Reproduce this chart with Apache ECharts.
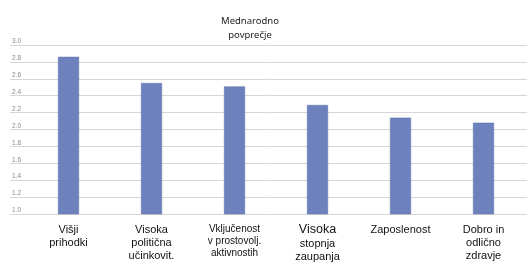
<!DOCTYPE html>
<html><head><meta charset="utf-8">
<script src="https://cdn.jsdelivr.net/npm/echarts@6/dist/echarts.min.js"></script>
<style>html,body{margin:0;padding:0;background:#fff}#c{width:527px;height:268px}</style>
</head><body><div id="c"></div>
<script>
const categories = ['Višji\nprihodki', 'Visoka\npolitična\nučinkovit.', 'Vključenost\nv prostovolj.\naktivnostih', 'Visoka\nstopnja\nzaupanja', 'Zaposlenost', 'Dobro in\nodlično\nzdravje'];
const values = [2.86, 2.55, 2.51, 2.29, 2.14, 2.08];
const yTicks = ['1.0','1.2','1.4','1.6','1.8','2.0','2.2','2.4','2.6','2.8','3.0'];
const title = 'Mednarodno\npovprečje';

const chart = echarts.init(document.getElementById('c'));
chart.setOption({
  animation: false,
  title: { text: title, left: 245, top: 9, textAlign: 'center',
    textStyle: { fontFamily: 'Noto Sans', fontSize: 9.5, fontWeight: 'normal', color: '#222', lineHeight: 14 } },
  grid: [
    { left: 27, right: 2, top: 45, bottom: 54 },
    { left: 10, right: 0, top: 45, bottom: 54 }
  ],
  xAxis: [
    { type: 'category', gridIndex: 0, data: categories,
      axisLine: { show: false }, axisTick: { show: false },
      axisLabel: { interval: 0, margin: 9, fontFamily: 'Liberation Sans', fontSize: 11, lineHeight: 13, color: '#111',
        formatter: (v, i) => {
          const lines = v.split('\n');
          if (i === 2) return lines.map(l => '{s|' + l + '}').join('\n');
          if (i === 3) return '{b|' + lines[0] + '}\n' + lines.slice(1).map(l => '{a|' + l + '}').join('\n');
          return lines.map(l => '{a|' + l + '}').join('\n');
        },
        rich: {
          a: { fontFamily: 'Liberation Sans', fontSize: 11, lineHeight: 13, color: '#111' },
          s: { fontFamily: 'Liberation Sans', fontSize: 10, lineHeight: 12, color: '#111' },
          b: { fontFamily: 'Liberation Sans', fontSize: 12.5, lineHeight: 14, color: '#111' }
        } } },
    { type: 'value', gridIndex: 1, show: false }
  ],
  yAxis: [
    { type: 'value', gridIndex: 0, min: 1.0, max: 3.0, interval: 0.2, show: false, splitLine: { show: false } },
    { type: 'value', gridIndex: 1, min: 1.0, max: 3.0, interval: 0.2,
      axisLine: { show: false }, axisTick: { show: false },
      splitLine: { lineStyle: { color: '#d6d6d6', width: 1 } },
      axisLabel: { inside: true, margin: 2, verticalAlign: 'bottom', fontSize: 6.5, color: '#888',
        formatter: v => yTicks[Math.round((v - 1.0) / 0.2)] } }
  ],
  series: [{
    type: 'bar', xAxisIndex: 0, yAxisIndex: 0, data: values, barWidth: 21,
    itemStyle: { color: '#6d81bd', borderColor: '#5c6fa8', borderWidth: 0.5 }
  }]
});
</script></body></html>
